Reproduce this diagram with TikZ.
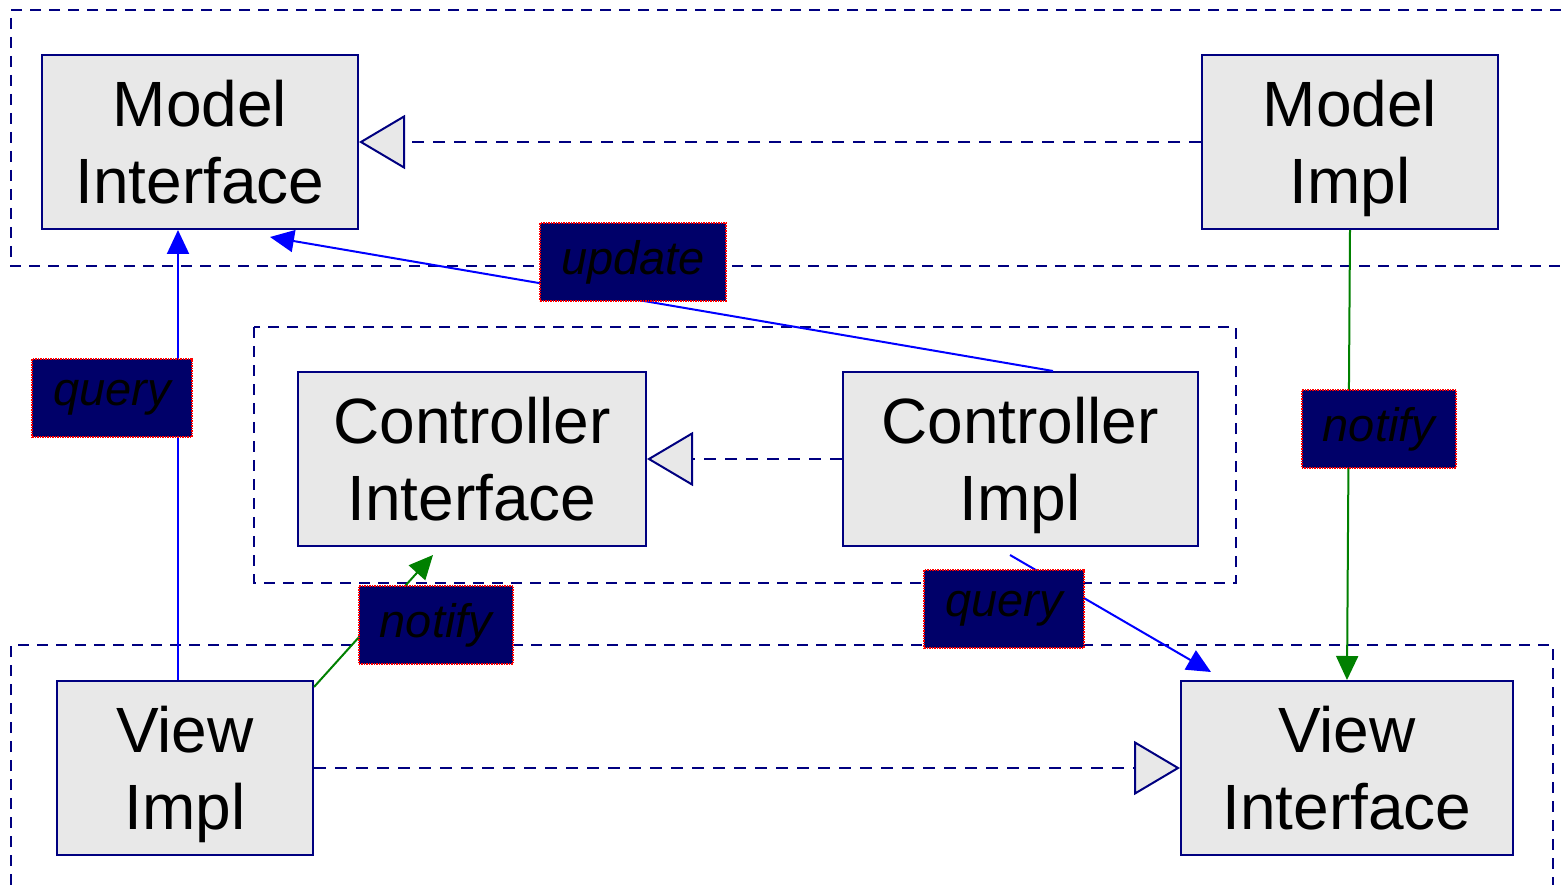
\documentclass[tikz,border=0pt]{standalone}
\usepackage{xcolor}
\usepackage{tikz}
\usepackage{fontspec}
\setmainfont{Liberation Sans}
\usetikzlibrary{arrows.meta}

\definecolor{umlnavy}{RGB}{0,0,128}
\definecolor{umlgray}{RGB}{232,232,232}
\definecolor{umlblue}{RGB}{0,0,255}
\definecolor{umlgreen}{RGB}{0,128,0}
\definecolor{tagfill}{RGB}{0,0,105}

\begin{document}
\begin{tikzpicture}[x=1pt, y=-1pt,
    classbox/.style={rectangle, draw=umlnavy, line width=2pt, fill=umlgray, align=center,
        font=\fontsize{64}{77}\selectfont, inner sep=0pt, text depth=0pt, minimum height=174pt},
    tag/.style={rectangle, draw=red, densely dotted, line width=1.5pt, fill=tagfill,
        font=\fontsize{47}{56}\itshape, inner xsep=21pt, minimum height=78pt},
    package/.style={draw=umlnavy, line width=2.5pt, dash pattern=on 11pt off 8pt},
    realizes/.style={draw=umlnavy, line width=2pt, dash pattern=on 12pt off 9pt,
        -{Triangle[length=46pt, width=54pt, fill=umlgray]}},
    calls/.style={draw=umlblue, line width=2pt, -{Triangle[length=24pt, width=22pt]}},
    notifies/.style={draw=umlgreen, line width=2pt, -{Triangle[length=24pt, width=22pt]}}]
    \useasboundingbox (0,0) rectangle (1561,885);

    % packages
    \draw[package] (1561,10) -- (11,10) -- (11,266) -- (1561,266);
    \draw[package] (254,327) rectangle (1236,583);
    \draw[package] (11,885) -- (11,645) -- (1553,645) -- (1553,885);

    % classes
    \node[classbox, minimum width=316pt] (mint) at (200,142) {Model\\Interface};
    \node[classbox, minimum width=296pt] (mimpl) at (1350,142) {Model\\Impl};
    \node[classbox, minimum width=348pt] (cint) at (472,459) {Controller\\Interface};
    \node[classbox, minimum width=355pt] (cimpl) at (1020,459) {Controller\\Impl};
    \node[classbox, minimum width=256pt] (vimpl) at (185,768) {View\\Impl};
    \node[classbox, minimum width=332pt] (vint) at (1347,768) {View\\Interface};

    % realization
    \draw[realizes] (mimpl.west) -- (mint.east);
    \draw[realizes] (cimpl.west) -- (cint.east);
    \draw[realizes] (vimpl.east) -- (vint.west);

    % calls
    \draw[calls] ([xshift=-7pt]vimpl.north) -- ([xshift=-7pt]vimpl.north |- mint.south);
    \draw[calls] ([xshift=33pt]cimpl.north) -- ([xshift=70pt,yshift=-7pt]mint.south);
    \draw[calls] ([xshift=-10pt,yshift=-8pt]cimpl.south) -- ([xshift=31pt,yshift=8pt]vint.north west);
    \draw[notifies] (mimpl.south) -- (vint.north);
    \draw[notifies] ([yshift=-7pt]vimpl.north east) -- ([xshift=-39pt,yshift=-8pt]cint.south);

    % labels
    \node[tag] (queryup) at (112,398) {query};
    \node[tag] (update) at (633,262) {update};
    \node[tag] (notifyview) at (1379,429) {notify};
    \node[tag] (notifyctrl) at (436,625) {notify};
    \node[tag] (queryview) at (1004,609) {query};
\end{tikzpicture}
\end{document}
